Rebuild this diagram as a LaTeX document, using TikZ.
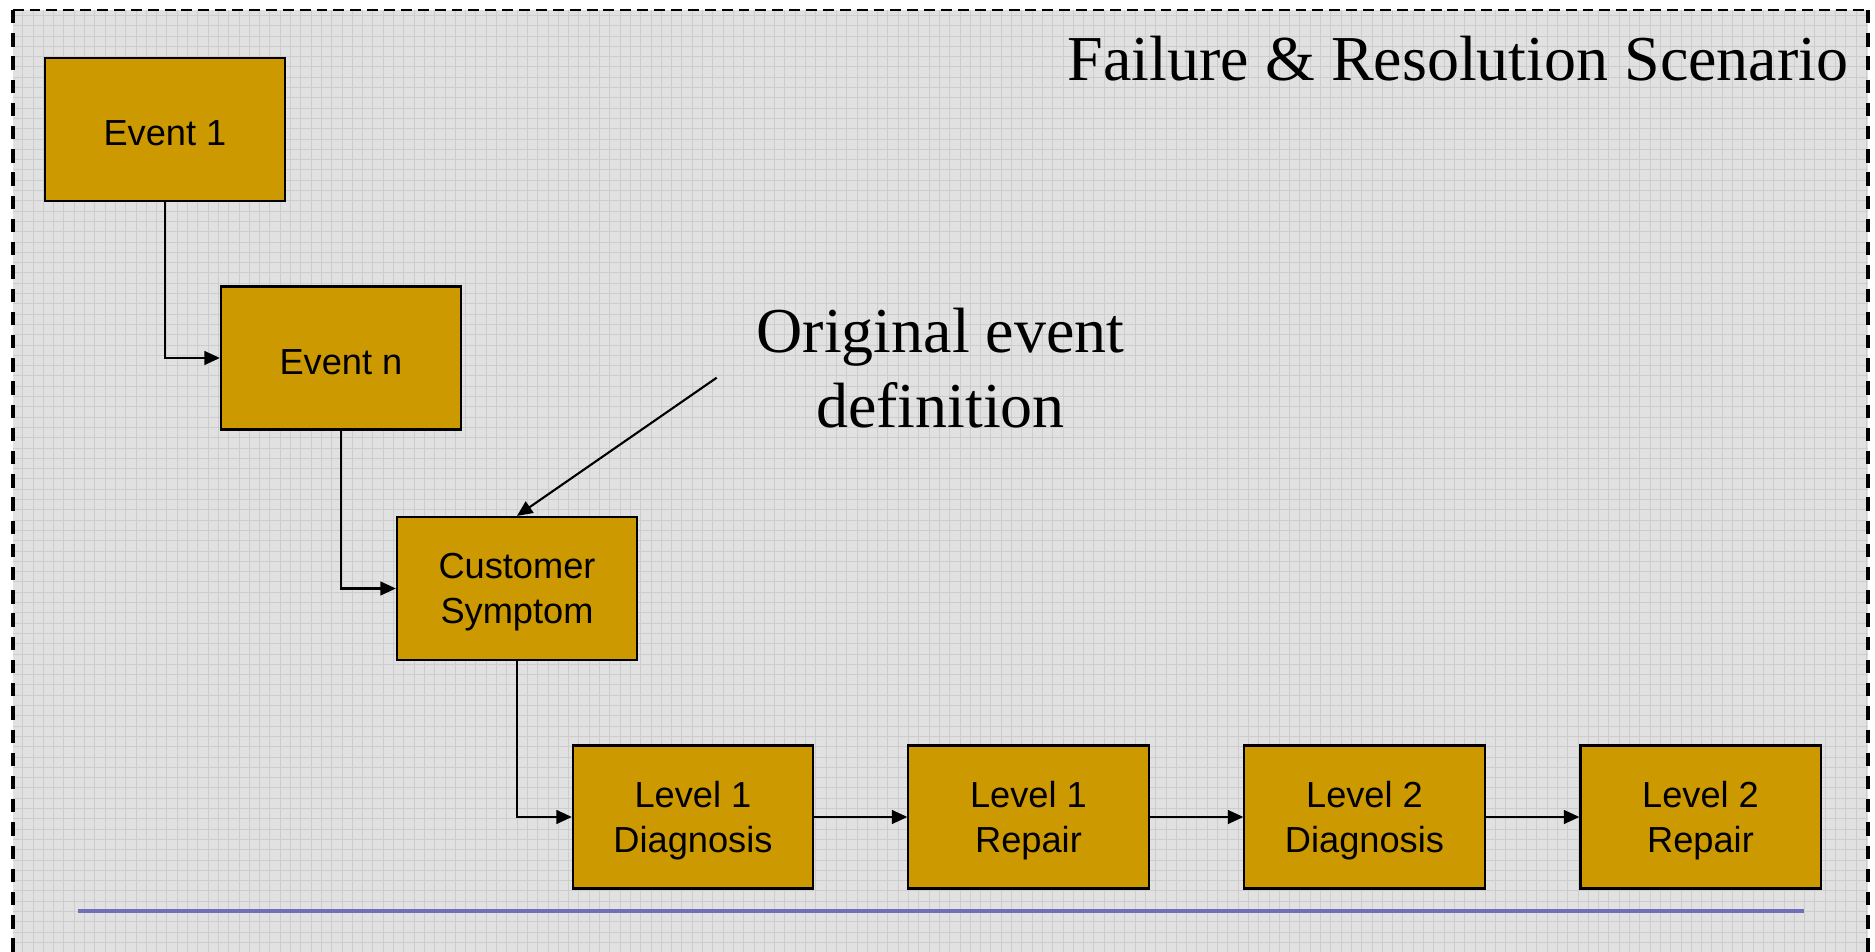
\documentclass[tikz,border=0pt]{standalone}
\usepackage{fontspec}
\setmainfont{Liberation Serif}
\setsansfont{Liberation Sans}
\usetikzlibrary{arrows.meta}

\definecolor{boxfill}{HTML}{CC9900}
\definecolor{panelbg}{HTML}{E1E1E1}
\definecolor{gridline}{HTML}{CDCDCD}
\definecolor{rulecol}{RGB}{112,112,186}

\tikzset{
  stepbox/.style={draw=black, line width=0.6pt, fill=boxfill,
    minimum width=2.40cm, minimum height=1.43cm, inner sep=0pt, align=center,
    text depth=0pt, execute at begin node={\rule{0pt}{9.2pt}},
    font=\sffamily\fontsize{10.3pt}{12.8pt}\selectfont},
  twoline/.style={execute at begin node={\rule{0pt}{11pt}}},
  link/.style={draw=black, line width=0.6pt,
    -{Triangle[length=4.4pt,width=3.9pt]}},
  bigtext/.style={font=\rmfamily\fontsize{18.2pt}{21.3pt}\selectfont,
    inner sep=0pt},
}

\begin{document}
\begin{tikzpicture}[x=0.01cm, y=-0.01cm]
  \useasboundingbox (0,0) rectangle (1875,952);

  % panel background with fine grid
  \begin{scope}
    \clip (12.7,10) rectangle (1868,952);
    \fill[panelbg] (12.7,10) rectangle (1868,952);
    \foreach \gx in {0,...,180}
      \draw[gridline, line width=0.25pt] ({22.7+10.3*\gx},10) -- ({22.7+10.3*\gx},952);
    \foreach \gy in {0,...,92}
      \draw[gridline, line width=0.25pt] (12.7,{5.1+10.3*\gy}) -- (1868,{5.1+10.3*\gy});
  \end{scope}

  % dashed frame, open at the bottom
  \coordinate (fTL) at (12.7,10);
  \coordinate (fTR) at (1868,10);
  \coordinate (fBL) at (12.7,960);
  \coordinate (fBR) at (1868,960);
  \draw[black, line width=0.8pt, dash pattern=on 3.1pt off 1.7pt] (fTL) -- (fTR);
  \draw[black, line width=1.1pt, dash pattern=on 3.8pt off 2.8pt] (fTL) -- (fBL);
  \draw[black, line width=1.1pt, dash pattern=on 3.8pt off 2.8pt] (fTR) -- (fBR);

  % title and annotation
  \node[bigtext, anchor=base east] (title) at (1849,81)
    {Failure \& Resolution Scenario};
  \node[bigtext, align=center] (note) at (940.5,368.5)
    {Original event\\definition};
  \coordinate (notetail) at (716.7,377.7);

  % process boxes
  \node[stepbox] (e1)  at (165,129.5) {Event 1};
  \node[stepbox] (en)  at (341,358)   {Event n};
  \node[stepbox, twoline] (cs)  at (517,588.5) {Customer\\Symptom};
  \node[stepbox, twoline] (l1d) at (693,817)   {Level 1\\Diagnosis};
  \node[stepbox, twoline] (l1r) at (1028.5,817) {Level 1\\Repair};
  \node[stepbox, twoline] (l2d) at (1364.5,817) {Level 2\\Diagnosis};
  \node[stepbox, twoline] (l2r) at (1700.5,817) {Level 2\\Repair};

  % connectors
  \draw[link] (e1.south) |- (en.west);
  \draw[link] (en.south) |- (cs.west);
  \draw[link] (cs.south) |- (l1d.west);
  \draw[link] (l1d.east) -- (l1r.west);
  \draw[link] (l1r.east) -- (l2d.west);
  \draw[link] (l2d.east) -- (l2r.west);
  \draw[link] (notetail) -- (cs.north);

  % footer rule
  \coordinate (ruleL) at (78,911.3);
  \coordinate (ruleR) at (1804,911.3);
  \draw[rulecol, line width=1.1pt] (ruleL) -- (ruleR);
\end{tikzpicture}
\end{document}
